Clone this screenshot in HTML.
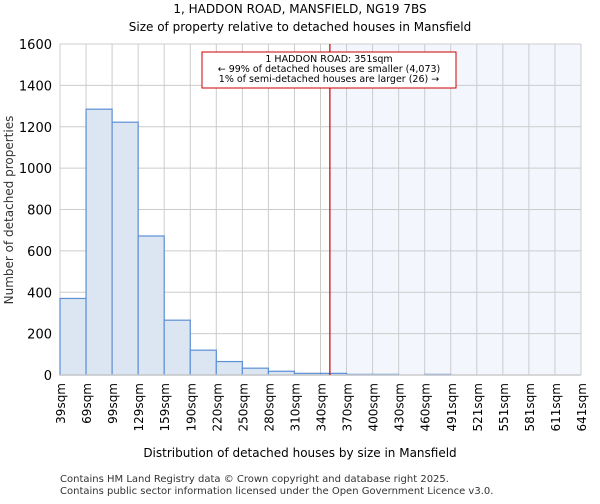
<!DOCTYPE html>
<html><head><meta charset="utf-8"><style>
body{margin:0;background:#fff;font-family:"DejaVu Sans","Liberation Sans",sans-serif;}
svg text{font-family:"DejaVu Sans","Liberation Sans",sans-serif;}
</style></head><body>
<svg id="c" width="600" height="500" xmlns="http://www.w3.org/2000/svg">
<text x="300" y="13" text-anchor="middle" font-size="12">1, HADDON ROAD, MANSFIELD, NG19 7BS</text>
<text x="300" y="31" text-anchor="middle" font-size="12">Size of property relative to detached houses in Mansfield</text>
<g id="plot"></g>
<text x="300" y="457" text-anchor="middle" font-size="12">Distribution of detached houses by size in Mansfield</text>
<text transform="translate(13,210) rotate(-90)" text-anchor="middle" font-size="12" fill="#333">Number of detached properties</text>
<text x="60" y="482" font-size="10" fill="#333">Contains HM Land Registry data © Crown copyright and database right 2025.</text>
<text x="60" y="494" font-size="10" fill="#333">Contains public sector information licensed under the Open Government Licence v3.0.</text>
</svg>
<script>
const binLabels=["39sqm","69sqm","99sqm","129sqm","159sqm","190sqm","220sqm","250sqm","280sqm","310sqm","340sqm","370sqm","400sqm","430sqm","460sqm","491sqm","521sqm","551sqm","581sqm","611sqm","641sqm"];
const counts=[370,1285,1222,672,265,120,65,33,18,8,8,3,3,0,3,0,0,0,0,0];
const yTicks=[0,200,400,600,800,1000,1200,1400,1600];
const markerBin=10.36;
const NS="http://www.w3.org/2000/svg";
const L=60,R=581,T=44,B=375,yMax=1600;
const n=counts.length,bw=(R-L)/n;
const x=i=>L+i*bw;
const y=v=>B-(v/yMax)*(B-T);
const g=document.getElementById('plot');
function el(t,a){const e=document.createElementNS(NS,t);for(const k in a)e.setAttribute(k,a[k]);g.appendChild(e);return e;}
const mx=x(markerBin);
let e=el('rect',{x:mx,y:T,width:R-mx,height:B-T,fill:'#f3f6fd'});


yTicks.forEach(t=>{
 let l=el('line',{x1:L,x2:R,y1:y(t),y2:y(t),stroke:'#ccc'});
 
 
 let tx=el('text',{x:L-8,y:y(t)+5,'text-anchor':'end','font-size':'13'});tx.textContent=t;
 
 
});
binLabels.forEach((s,i)=>{
 let l=el('line',{x1:x(i),x2:x(i),y1:T,y2:B,stroke:'#ccc'});
 
 
 let tx=el('text',{transform:`translate(${x(i)+5},${B+8}) rotate(-90)`,'text-anchor':'end','font-size':'12'});tx.textContent=s;
 
 
});
counts.forEach((v,i)=>{
 if(v<=0)return;
 let r=el('rect',{x:x(i),y:y(v),width:bw,height:B-y(v),fill:'#dce6f2',stroke:'#5b8fd6','stroke-width':1.2});
 
 
});
let ax=el('line',{x1:L,x2:R,y1:B,y2:B,stroke:'#ccc','stroke-width':1.5});


let ml=el('line',{x1:mx,x2:mx,y1:T,y2:B,stroke:'#cc0000','stroke-width':1.2});


let bx=el('rect',{x:202,y:52,width:254,height:36,fill:'#fff',stroke:'#cc0000'});


["1 HADDON ROAD: 351sqm","← 99% of detached houses are smaller (4,073)","1% of semi-detached houses are larger (26) →"].forEach((s,i)=>{
 let t=el('text',{x:329,y:62+i*10,'text-anchor':'middle','font-size':'9.5'});t.textContent=s;
 
 
});
</script>
</body></html>
